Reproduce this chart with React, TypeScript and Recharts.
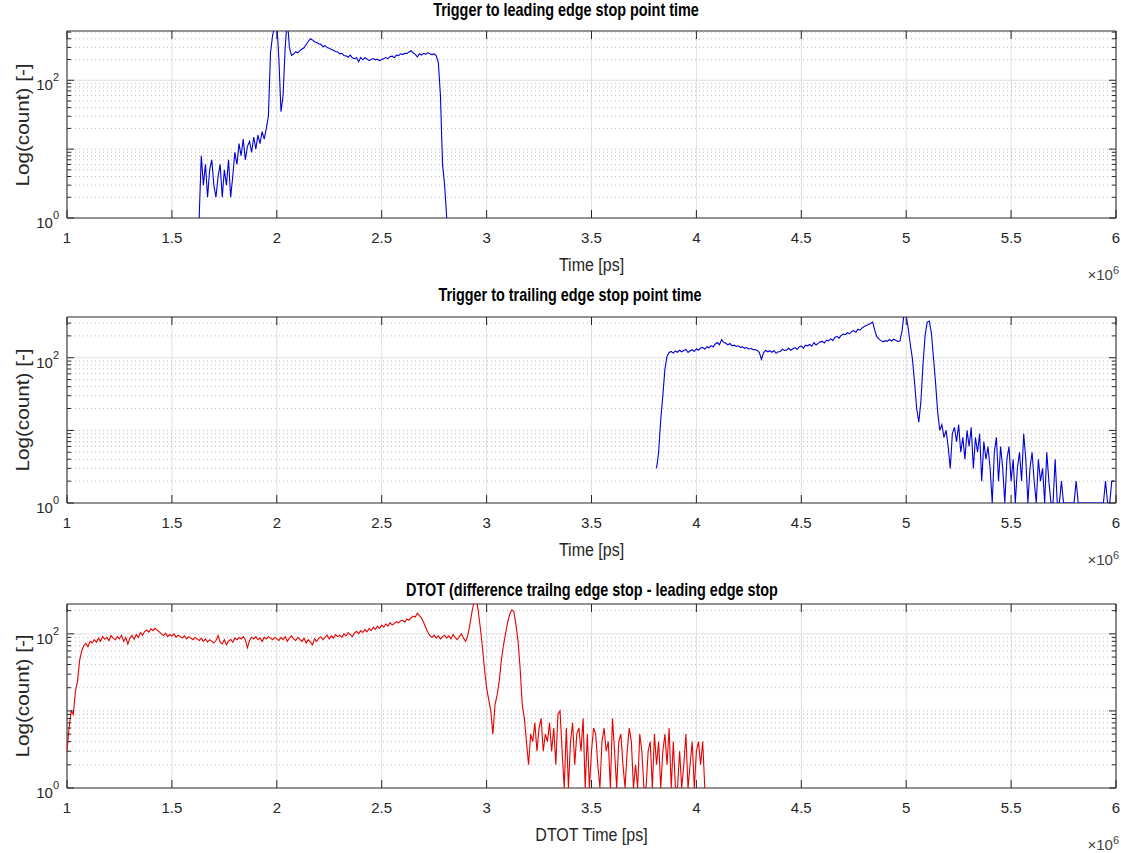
import {
  CartesianGrid,
  Line,
  LineChart,
  ReferenceArea,
  ReferenceLine,
  XAxis,
  YAxis,
} from "recharts";

// tick values shared by the three panels
const TIME_TICKS = [1e6, 1.5e6, 2e6, 2.5e6, 3e6, 3.5e6, 4e6, 4.5e6, 5e6, 5.5e6, 6e6];
const TIME_TICK_LABELS = ["1", "1.5", "2", "2.5", "3", "3.5", "4", "4.5", "5", "5.5", "6"];
const COUNT_TICKS = [
  1, 2, 3, 4, 5, 6, 7, 8, 9, 10, 20, 30, 40, 50, 60, 70, 80, 90, 100, 200, 300, 400, 500,
];
const COUNT_LABELS: Record<number, string> = { 1: "0", 100: "2" };

// histogram bins, 10 ns wide
const BIN_PS = 10000;

const LEADING_START = 1.63e6;
const leadingCounts = [
  1, 8, 3, 6, 2, 5, 7,
  3, 2, 4, 6, 2, 5, 3, 7, 2, 4,
  9, 6, 12, 8, 14, 7, 11, 13, 9, 15,
  10, 16, 12, 18, 14, 20, 30, 250, 450, 600,
  700, 200, 35, 60, 300, 800, 300, 230, 240, 260,
  250, 270, 284, 296, 330, 365, 400, 385, 362, 352,
  338, 332, 306, 318, 298, 292, 280, 272, 262, 258,
  242, 246, 228, 226, 216, 232, 212, 206, 212, 186,
  214, 198, 212, 203, 193, 202, 207, 198, 203, 192,
  201, 207, 214, 206, 222, 224, 212, 232, 228, 242,
  236, 247, 244, 258, 268, 248, 238, 218, 242, 232,
  246, 238, 252, 243, 236, 241, 226, 180, 60, 6,
  3, 1,
];

const TRAILING_START = 3.81e6;
const trailingCounts = [
  3, 5, 14, 30, 70, 105, 118, 122, 116,
  124, 119, 127, 121, 126, 130, 118, 125, 129, 122,
  133, 127, 136, 139, 131, 142, 137, 147, 141, 155,
  162, 151, 178, 163, 158, 151, 157, 146, 149, 143,
  146, 139, 141, 135, 138, 131, 135, 129, 130, 126,
  118, 95, 117, 127, 121, 125, 119, 126, 115, 121,
  122, 131, 126, 128, 135, 127, 133, 138, 130, 141,
  145, 136, 149, 146, 152, 144, 161, 150, 158, 166,
  168, 160, 174, 171, 183, 172, 190, 197, 186, 203,
  212, 208, 221, 213, 230, 236, 224, 247, 240, 258,
  270, 278, 288, 296, 310, 240, 195, 180, 172, 166,
  172, 168, 178, 170, 180, 174, 168, 170, 230, 420,
  380, 250, 150, 95, 45, 20, 13, 25, 80, 200,
  310, 320, 220, 100, 45, 18, 10, 12, 8, 10,
  6, 3, 9, 11, 7, 12, 5, 8, 4, 10,
  6, 11, 3, 8, 5, 9, 2, 7, 4, 6,
  3, 1, 5, 8, 2, 6, 3, 1, 4, 6,
  2, 4, 1, 3, 5, 2, 9, 4, 1, 3,
  5, 2, 1, 4, 2, 3, 1, 5, 2, 1,
  1, 4, 1, 1, 2, 1, 1, 1, 1, 1,
  1, 2, 1, 1, 1, 1, 1, 1, 1, 1,
  1, 1, 1, 1, 1, 2, 1, 1, 2, 2,
];

const DTOT_START = 1.0e6;
const dtotCounts = [
  3, 6, 10, 9, 18, 24, 45, 60, 70, 75,
  68, 80, 76, 84, 78, 88, 80, 92, 85, 90,
  82, 95, 88, 84, 92, 86, 96, 80, 90, 74,
  88, 95, 85, 98, 90, 104, 96, 108, 112, 105,
  116, 110, 118, 112, 106, 100, 95, 102, 92, 98,
  94, 100, 90, 96, 92, 88, 94, 86, 92, 88,
  84, 90, 86, 82, 88, 80, 86, 78, 84, 80,
  76, 82, 95, 78, 74, 84, 72, 80, 85, 78,
  88, 84, 90, 86, 92, 84, 66, 82, 90, 86,
  92, 84, 88, 80, 90, 86, 92, 88, 84, 90,
  86, 82, 90, 84, 92, 80, 88, 94, 86, 82,
  90, 85, 80, 88, 76, 84, 78, 72, 86, 80,
  88, 92, 84, 90, 96, 86, 94, 88, 98, 92,
  96, 90, 100, 94, 104, 98, 92, 102, 108, 100,
  110, 104, 114, 106, 118, 110, 122, 114, 126, 118,
  130, 122, 134, 126, 140, 130, 136, 144, 138, 148,
  150, 142, 156, 150, 162, 170, 165, 185, 172, 160,
  140, 120, 105, 95, 90, 96, 88, 94, 86, 92,
  96, 88, 94, 86, 98, 90, 84, 92, 100, 88,
  80, 95, 130, 190, 260, 300, 200, 120, 68, 35,
  20, 14, 10, 5, 12, 16, 24, 45, 70, 100,
  140, 180, 205, 195, 130, 80, 35, 12, 8, 4,
  2, 5, 4, 7, 3, 6, 8, 3, 5, 4,
  7, 3, 6, 2, 9, 10, 3, 1, 6, 1,
  4, 7, 2, 5, 6, 3, 8, 1, 5, 1,
  3, 6, 5, 2, 1, 4, 6, 3, 4, 1,
  8, 3, 1, 4, 5, 2, 1, 3, 6, 4,
  1, 2, 1, 5, 3, 1, 1, 3, 4, 1,
  5, 2, 4, 1, 3, 5, 2, 6, 1, 4,
  1, 1, 3, 1, 2, 5, 1, 2, 4, 1,
  3, 4, 2, 4, 1,
];

const AXIS = "#262626";
const FONT = '"Liberation Sans", Arial, sans-serif';
const W = 1121;
const PANEL_H = 285;
const PLOT_LEFT = 67;
const PLOT_RIGHT_GAP = 5;
const PLOT_W = W - PLOT_LEFT - PLOT_RIGHT_GAP;
const X_AXIS_H = 67;

function XTick(props: any) {
  const { x, y, payload, plotH } = props;
  const label = TIME_TICK_LABELS[TIME_TICKS.indexOf(payload.value)];
  return (
    <g>
      <line x1={x} x2={x} y1={y} y2={y - 8} stroke={AXIS} />
      <line x1={x} x2={x} y1={y - plotH} y2={y - plotH + 8} stroke={AXIS} />
      <text x={x} y={y + 25} textAnchor="middle" fill={AXIS} fontSize={15} fontFamily={FONT}>
        {label}
      </text>
    </g>
  );
}

function YTick(props: any) {
  const { x, y, payload } = props;
  const v = payload.value;
  const exp = COUNT_LABELS[v];
  const len = v === 1 || v === 10 || v === 100 ? 7 : 4;
  return (
    <g>
      <line x1={x} x2={x + len} y1={y} y2={y} stroke={AXIS} />
      <line x1={x + PLOT_W} x2={x + PLOT_W - len} y1={y} y2={y} stroke={AXIS} />
      {exp && (
        <text x={x - 8} y={y + 10} textAnchor="end" fill={AXIS} fontSize={15} fontFamily={FONT}>
          10
          <tspan dy={-9} fontSize={11}>
            {exp}
          </tspan>
        </text>
      )}
    </g>
  );
}

type PanelProps = {
  top: number;
  plotTop: number;
  yMax: number;
  title: string;
  titleX: number;
  titleY: number;
  xLabel: string;
  counts: number[];
  start: number;
  color: string;
};

function Panel({ top, plotTop, yMax, title, titleX, titleY, xLabel, counts, start, color }: PanelProps) {
  const plotH = PANEL_H - X_AXIS_H - plotTop;
  const plotBottom = PANEL_H - X_AXIS_H;
  const data = counts.map((c, i) => ({ t: start + i * BIN_PS, c }));
  const yTicks = COUNT_TICKS.filter((v) => v <= yMax);

  return (
    <div style={{ position: "absolute", left: 0, top, width: W, height: PANEL_H }}>
      <LineChart
        width={W}
        height={PANEL_H}
        data={data}
        margin={{ top: plotTop, right: PLOT_RIGHT_GAP, left: 0, bottom: 0 }}
      >
        <CartesianGrid horizontal={false} stroke="#e0e0e0" />
        {yTicks
          .filter((v) => v > 1)
          .map((v) => (
            <ReferenceLine
              key={v}
              y={v}
              stroke={v === 100 ? "#e0e0e0" : "#bdbdbd"}
              strokeDasharray={v === 100 ? undefined : "1 3"}
            />
          ))}
        <XAxis
          dataKey="t"
          type="number"
          domain={[1e6, 6e6]}
          ticks={TIME_TICKS}
          interval={0}
          allowDataOverflow
          height={X_AXIS_H}
          axisLine={false}
          tickLine={false}
          tickSize={0}
          tickMargin={0}
          tick={(p: any) => <XTick {...p} plotH={plotH} />}
        />
        <YAxis
          scale="log"
          domain={[1, yMax]}
          ticks={yTicks}
          interval={0}
          allowDataOverflow
          width={PLOT_LEFT}
          axisLine={false}
          tickLine={false}
          tickSize={0}
          tickMargin={0}
          tick={(p: any) => <YTick {...p} />}
        />
        <ReferenceArea
          x1={1e6}
          x2={6e6}
          y1={1}
          y2={yMax}
          fill="none"
          fillOpacity={0}
          stroke={AXIS}
          ifOverflow="visible"
        />
        <Line
          dataKey="c"
          type="linear"
          stroke={color}
          strokeWidth={1.1}
          dot={false}
          isAnimationActive={false}
        />
      </LineChart>

      <div
        style={{
          position: "absolute",
          left: titleX - 300,
          top: titleY - 10,
          width: 600,
          height: 20,
          lineHeight: "20px",
          textAlign: "center",
          fontFamily: FONT,
          fontWeight: "bold",
          fontSize: 16,
          color: "#000",
          transform: "scale(0.9, 1.16)",
        }}
      >
        {title}
      </div>
      <div
        style={{
          position: "absolute",
          left: PLOT_LEFT + PLOT_W / 2 - 150,
          top: plotBottom + 37,
          width: 300,
          height: 20,
          lineHeight: "20px",
          textAlign: "center",
          fontFamily: FONT,
          fontSize: 16,
          color: AXIS,
          transform: "scale(1, 1.15)",
        }}
      >
        {xLabel}
      </div>
      <div
        style={{
          position: "absolute",
          left: 23 - 100,
          top: plotTop + plotH / 2 - 10,
          width: 200,
          height: 20,
          lineHeight: "20px",
          textAlign: "center",
          transform: "rotate(-90deg) scale(1.15, 1)",
          fontFamily: FONT,
          fontSize: 18,
          color: AXIS,
        }}
      >
        Log(count) [-]
      </div>
      <div
        style={{
          position: "absolute",
          right: W - 1119,
          top: plotBottom + 40,
          height: 24,
          lineHeight: "24px",
          fontFamily: FONT,
          fontSize: 15,
          color: "#444",
          whiteSpace: "nowrap",
        }}
      >
        ×10<sup style={{ fontSize: 11 }}>6</sup>
      </div>
    </div>
  );
}

export default function App() {
  return (
    <div style={{ position: "absolute", left: 0, top: 0, width: W, height: 853, background: "#fff" }}>
      <Panel
        top={0}
        plotTop={31}
        yMax={519}
        title="Trigger to leading edge stop point time"
        titleX={566}
        titleY={10}
        xLabel="Time [ps]"
        counts={leadingCounts}
        start={LEADING_START}
        color="#0000d8"
      />
      <Panel
        top={285}
        plotTop={32}
        yMax={364}
        title="Trigger to trailing edge stop point time"
        titleX={570}
        titleY={10}
        xLabel="Time [ps]"
        counts={trailingCounts}
        start={TRAILING_START}
        color="#0000d8"
      />
      <Panel
        top={570}
        plotTop={34}
        yMax={244}
        title="DTOT (difference trailng edge stop - leading edge stop"
        titleX={592}
        titleY={20}
        xLabel="DTOT Time [ps]"
        counts={dtotCounts}
        start={DTOT_START}
        color="#e60000"
      />
    </div>
  );
}
